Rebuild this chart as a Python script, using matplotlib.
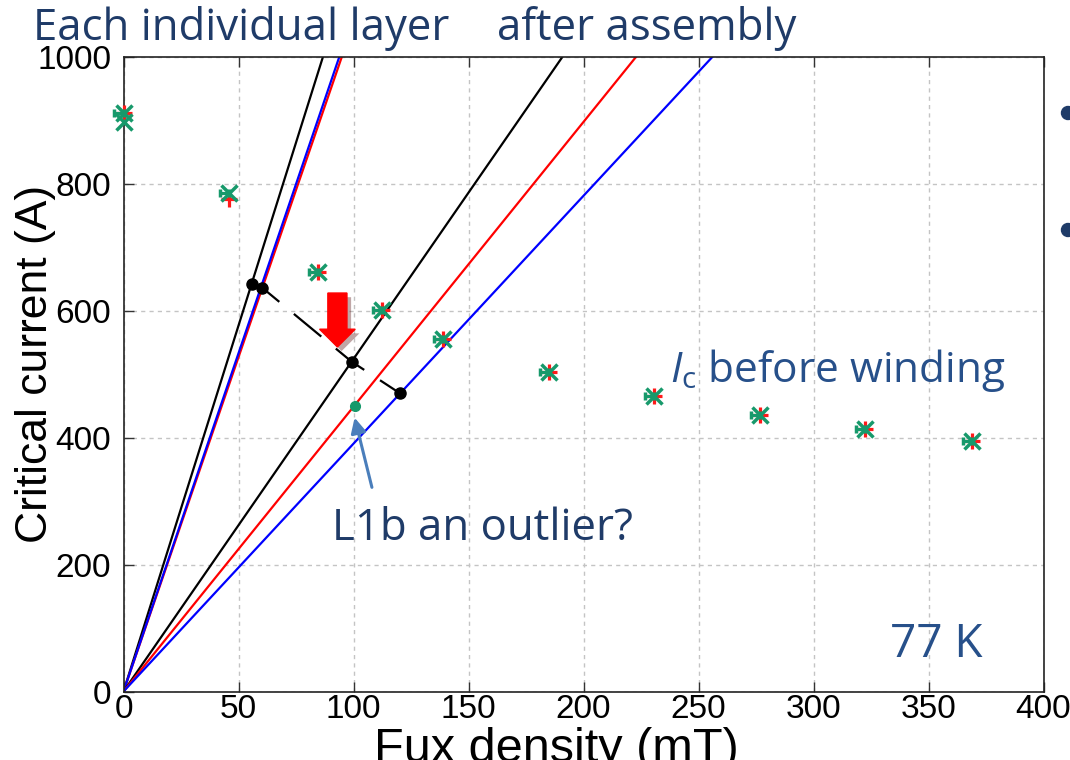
import matplotlib
matplotlib.use("Agg")
import matplotlib.pyplot as plt
from matplotlib.patches import FancyArrow, Ellipse
import matplotlib.patheffects as pe

# --- data -------------------------------------------------------------
# Load lines: field (mT) reached at 1000 A for each line through the origin
steep_black_B = 86.7
steep_blue_B = 93.8
steep_red_B = 94.9
black_B = 190.8
red_B = 222.8
blue_B = 256.0
line_I_top = 1000.0

# Ic(B) of the tape before winding (two repeat measurements)
ic_field = [0, 46, 84.7, 112.3, 139, 185, 230.7, 276.7, 322.4, 368.8]
ic_red = [912, 776, 661, 601, 555, 503, 465, 436, 413, 395]
ic_green = [912, 785, 661, 601, 555, 503, 465, 436, 413, 395]
ic_green_extra_field = [0]
ic_green_extra = [897]

# Operating points (intersection of load lines with Ic curve)
op_field = [56.0, 60.3, 99.2, 120.2]
op_current = [643, 636.4, 519.8, 470]
# Dashed guide through the operating points
guide_field = [60.3, 99.2, 120.2]
guide_current = [636.4, 519.8, 470]

# Outlier layer L1b
outlier_field = [100.6]
outlier_current = [450]

x_ticks = [0, 50, 100, 150, 200, 250, 300, 350, 400]
y_ticks = [0, 200, 400, 600, 800, 1000]

# --- styling ----------------------------------------------------------
navy = "#1F3B68"
steel = "#27508A"
green = "#17996B"
red = "#FF1A1A"
ann_font = "Open Sans"
tick_font = "Liberation Sans"

plt.rcParams["mathtext.fontset"] = "custom"
plt.rcParams["mathtext.rm"] = ann_font
plt.rcParams["mathtext.it"] = ann_font + ":italic"

fig = plt.figure(figsize=(10.7, 7.6), dpi=100)
ax = fig.add_axes([123.5 / 1070, 68.5 / 760, 920 / 1070, 634.5 / 760])

ax.set_xlim(0, 400)
ax.set_ylim(0, 1000)
ax.set_xticks(x_ticks)
ax.set_yticks(y_ticks)
ax.set_xticklabels([str(v) for v in x_ticks], fontfamily=tick_font, fontsize=24)
ax.set_yticklabels([str(v) for v in y_ticks], fontfamily=tick_font, fontsize=24)
ax.tick_params(direction="in", length=7, width=1, top=True, right=False,
               colors="#333333", labelcolor="black")
ax.tick_params(axis="x", pad=2)
ax.tick_params(axis="y", pad=9)
ax.grid(True, color="#C4C4C4", linestyle=(0, (3, 3)), linewidth=1)
ax.set_axisbelow(True)
for s in ax.spines.values():
    s.set_color("#222222")
    s.set_linewidth(1.2)

lw = 1.6
ax.plot([0, steep_black_B], [0, line_I_top], color="black", lw=lw)
ax.plot([0, steep_red_B], [0, line_I_top], color="red", lw=lw)
ax.plot([0, steep_blue_B], [0, line_I_top], color="blue", lw=lw)
ax.plot([0, black_B], [0, line_I_top], color="black", lw=lw)
ax.plot([0, red_B], [0, line_I_top], color="red", lw=lw)
ax.plot([0, blue_B], [0, line_I_top], color="blue", lw=lw)

# Ic before winding: red '+' and green 'x' with a one-sided field error bar
ax.plot(ic_field, ic_red, linestyle="none", marker="+", color=red,
        markersize=12, mew=2.3, clip_on=False, zorder=4)
ax.errorbar(ic_field, ic_green, xerr=[[4] * len(ic_field), [0] * len(ic_field)],
            fmt="x", color=green, markersize=11, mew=2.5, elinewidth=2.3,
            capsize=3, capthick=2.3, clip_on=False, zorder=5)
ax.plot(ic_green_extra_field, ic_green_extra, linestyle="none", marker="x",
        color=green, markersize=11, mew=2.5, clip_on=False, zorder=5)

# Dashed guide and operating points
ax.plot(guide_field, guide_current, color="black", lw=1.6,
        linestyle=(6, (16, 8.5)), zorder=6)
ax.plot(op_field, op_current, linestyle="none", marker="o", color="black",
        markersize=8, zorder=7)
ax.plot(outlier_field, outlier_current, linestyle="none", marker="o",
        color=green, markersize=7, zorder=7)

# Red arrow marking the drop after assembly
arrow = FancyArrow(93, 628, 0, -85, width=8.3, head_width=15.5, head_length=28,
                   length_includes_head=True, color="#FF0000", zorder=8)
arrow.set_path_effects([pe.SimplePatchShadow(offset=(3, -3), alpha=0.35),
                        pe.Normal()])
ax.add_patch(arrow)

# Annotations
ax.annotate("", xy=(100.2, 435.8), xytext=(108.3, 317.5),
            arrowprops=dict(arrowstyle="-|>,head_length=0.9,head_width=0.45",
                            color="#4A7EBB", lw=2.2), zorder=8)
ax.text(90.6, 238.8, "L1b an outlier?", fontfamily=ann_font, fontsize=31.5,
        color=navy, va="baseline", ha="left")
ax.text(333.3, 54.4, "77 K", fontfamily=ann_font, fontsize=33,
        color=steel, va="baseline", ha="left")
ax.text(237.5, 487.8, r"$I_{\mathrm{c}}$ before winding", fontfamily=ann_font,
        fontsize=30.5, color=steel, va="baseline", ha="left")

# Headings above the plot
fig.text(33 / 1070, 1 - 40 / 760, "Each individual layer", fontfamily=ann_font,
         fontsize=31.5, color=navy, va="baseline", ha="left")
fig.text(497 / 1070, 1 - 40 / 760, "after assembly", fontfamily=ann_font,
         fontsize=31.5, color=navy, va="baseline", ha="left")

# Axis titles
fig.text(36 / 1070, 1 - 364 / 760, "Critical current (A)", fontfamily=tick_font,
         fontsize=32, rotation=90, va="center", ha="center")
fig.text(556 / 1070, 1 - 727 / 760, "Fux density (mT)", fontfamily=tick_font,
         fontsize=35, va="top", ha="center")

# Bullet marks at the right edge
for yb in (113, 230):
    fig.patches.append(Ellipse((1068 / 1070, 1 - yb / 760), 13 / 1070, 13 / 760,
                               transform=fig.transFigure, color=navy))

fig.savefig("out.png", dpi=100, facecolor="white")
